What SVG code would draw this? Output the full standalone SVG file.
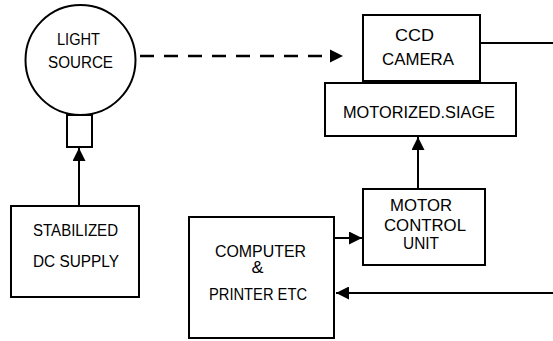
<svg xmlns="http://www.w3.org/2000/svg" width="553" height="341" viewBox="0 0 553 341">
<defs>
<style>
.box{fill:none;stroke:#000;stroke-width:2}
.ln{fill:none;stroke:#000;stroke-width:2}
.dash{fill:none;stroke:#000;stroke-width:2.5;stroke-dasharray:14 10}
text{font-family:"Liberation Sans",Arial,sans-serif;font-size:16px;fill:#000;text-anchor:middle}
</style>
<marker id="ahb" viewBox="0 0 10 10" refX="10" refY="5" markerWidth="13" markerHeight="13" markerUnits="userSpaceOnUse" orient="auto">
<path d="M0,0 L10,5 L0,10 Z" fill="#000"/>
</marker>
</defs>
<rect width="553" height="341" fill="#fff"/>
<g id="light-source">
<circle class="box" cx="80.5" cy="60" r="55"/>
<rect class="box" x="67" y="115" width="25" height="32"/>
<text x="78.5" y="45" textLength="43" lengthAdjust="spacingAndGlyphs">LIGHT</text>
<text x="80.5" y="68" textLength="65" lengthAdjust="spacingAndGlyphs">SOURCE</text>
</g>
<g id="dc-supply">
<rect class="box" x="11" y="206" width="128" height="91"/>
<text x="75.5" y="236" textLength="85" lengthAdjust="spacingAndGlyphs">STABILIZED</text>
<text x="76" y="267" textLength="86" lengthAdjust="spacingAndGlyphs">DC SUPPLY</text>
</g>
<g id="ccd-camera">
<rect class="box" x="363" y="15" width="117" height="66"/>
<text x="414.5" y="41" textLength="39" lengthAdjust="spacingAndGlyphs">CCD</text>
<text x="418" y="65" textLength="72" lengthAdjust="spacingAndGlyphs">CAMERA</text>
</g>
<g id="motorized-stage">
<rect class="box" x="325" y="83" width="191" height="53"/>
<text x="419" y="118" textLength="152" lengthAdjust="spacingAndGlyphs">MOTORIZED.SIAGE</text>
</g>
<g id="motor-control">
<rect class="box" x="363" y="189" width="122" height="76"/>
<text x="421" y="211" textLength="62" lengthAdjust="spacingAndGlyphs">MOTOR</text>
<text x="425" y="231" textLength="82" lengthAdjust="spacingAndGlyphs">CONTROL</text>
<text x="421" y="249" textLength="36" lengthAdjust="spacingAndGlyphs">UNIT</text>
</g>
<g id="computer">
<rect class="box" x="189" y="217" width="145" height="121"/>
<text x="260.5" y="257" textLength="91" lengthAdjust="spacingAndGlyphs">COMPUTER</text>
<text x="257.5" y="273" textLength="12" lengthAdjust="spacingAndGlyphs">&amp;</text>
<text x="258" y="300" textLength="98" lengthAdjust="spacingAndGlyphs">PRINTER ETC</text>
</g>
<g id="connectors">
<line class="dash" x1="140" y1="56" x2="331" y2="56"/>
<path d="M330,49.5 L343,56 L330,62.5 Z" fill="#000"/>
<line class="ln" x1="79" y1="206" x2="79" y2="148" marker-end="url(#ahb)"/>
<line class="ln" x1="480" y1="43" x2="553" y2="43"/>
<line class="ln" x1="418" y1="189" x2="418" y2="137" marker-end="url(#ahb)"/>
<line class="ln" x1="334" y1="238" x2="362" y2="238" marker-end="url(#ahb)"/>
<line class="ln" x1="553" y1="293" x2="336" y2="293" marker-end="url(#ahb)"/>
</g>
</svg>
